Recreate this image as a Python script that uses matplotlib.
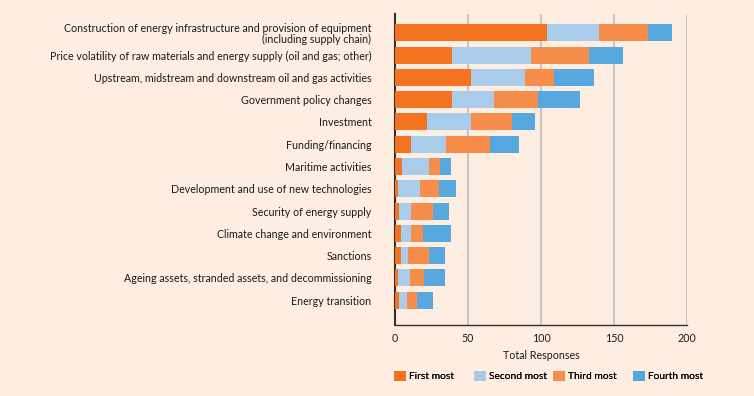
import numpy as np
import matplotlib.pyplot as plt
from matplotlib.patches import Patch

categories = [
    "Construction of energy infrastructure and provision of equipment\n(including supply chain)",
    "Price volatility of raw materials and energy supply (oil and gas; other)",
    "Upstream, midstream and downstream oil and gas activities",
    "Government policy changes",
    "Investment",
    "Funding/financing",
    "Maritime activities",
    "Development and use of new technologies",
    "Security of energy supply",
    "Climate change and environment",
    "Sanctions",
    "Ageing assets, stranded assets, and decommissioning",
    "Energy transition",
]
first_most = [104, 39, 52, 39, 22, 11, 5, 2, 3, 4, 4, 2, 3]
second_most = [36, 54, 37, 29, 30, 24, 18, 15, 8, 7, 5, 8, 5]
third_most = [33, 40, 20, 30, 28, 30, 8, 13, 15, 8, 14, 10, 7]
fourth_most = [17, 23, 27, 29, 16, 20, 7, 12, 11, 19, 11, 14, 11]

series_names = ["First most", "Second most", "Third most", "Fourth most"]
colors = ["#f37321", "#a9cceb", "#f68d4a", "#57a8de"]
bg = "#fdeee1"
fs = 7.7

plt.rcParams['font.family'] = ['Lato', 'DejaVu Sans']

fig = plt.figure(figsize=(7.54, 3.96), dpi=100, facecolor=bg)
ax = fig.add_axes([0.524, 0.179, 0.387, 0.786], facecolor=bg)

y = np.arange(len(categories))
left = np.zeros(len(categories))
for vals, col in zip([first_most, second_most, third_most, fourth_most], colors):
    ax.barh(y, vals, left=left, height=0.76, color=col, zorder=3)
    left += np.array(vals)

ax.set_xlim(0, 200)
ax.set_ylim(len(categories) - 1 + 1.12, -0.85)
ax.set_xticks([0, 50, 100, 150, 200])
ax.set_yticks(y)
ax.set_yticklabels(categories, fontsize=fs, color="#1a1a1a", linespacing=1.05)
ax.tick_params(axis='y', length=0, pad=17)
ax.tick_params(axis='x', length=0, pad=6, labelsize=fs, labelcolor="#1a1a1a")
ax.grid(axis='x', color="#c4c0bc", linewidth=1.3, zorder=0)
for s in ['top', 'right']:
    ax.spines[s].set_visible(False)
ax.spines['left'].set_color("#3a2e2a")
ax.spines['left'].set_linewidth(1.5)
ax.spines['bottom'].set_color("#3a2e2a")
ax.spines['bottom'].set_linewidth(1.0)
ax.set_xlabel("Total Responses", fontsize=fs, color="#1a1a1a", labelpad=4)

# one legend per entry so the swatches sit at even spacing like the original
leg_x = [394, 474, 553, 633]
for name, col, lx in zip(series_names, colors, leg_x):
    leg = fig.legend(handles=[Patch(facecolor=col, label=name)], loc='center left',
                     bbox_to_anchor=(lx / 754, 1 - 376 / 396), frameon=False, fontsize=7.4,
                     handlelength=1.2, handleheight=1.2, handletextpad=0.3,
                     borderaxespad=0, borderpad=0)
    fig.add_artist(leg)

fig.savefig("out.png", dpi=100, facecolor=bg)
